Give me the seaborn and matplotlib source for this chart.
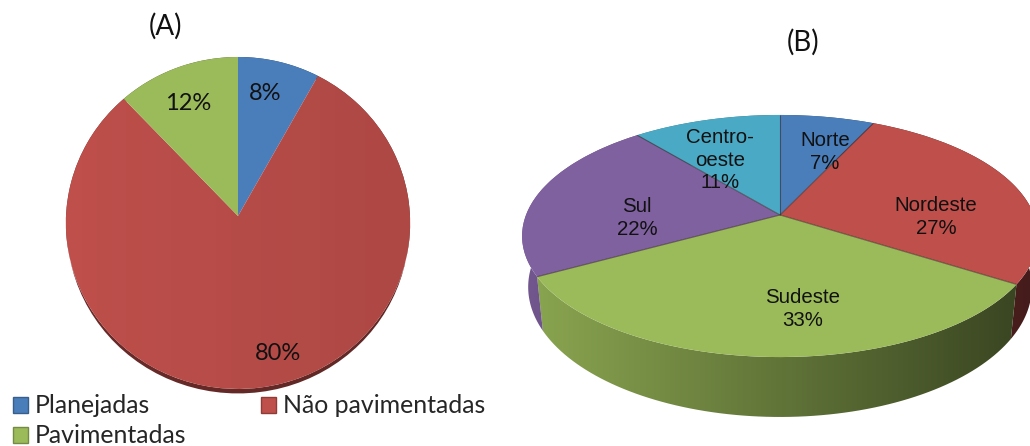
import numpy as np
import matplotlib
matplotlib.use("Agg")
import matplotlib.pyplot as plt
import matplotlib.transforms as mtransforms
from matplotlib.patches import Patch, Polygon
import seaborn as sns

vias_labels = ["Planejadas", "Não pavimentadas", "Pavimentadas"]
vias_values = [8, 80, 12]
regioes_labels = ["Norte", "Nordeste", "Sudeste", "Sul", "Centro-\noeste"]
regioes_values = [7, 27, 33, 22, 11]
office_colors = ["#4a7ebb", "#be4f4b", "#9bba5a", "#7f619f", "#4aa9c4"]


class Perspective(mtransforms.Transform):
    # tilted disc: unit circle to pixels, the centre ends up above the ellipse middle
    input_dims = 2
    output_dims = 2

    def __init__(self, cx, cy, a, b, k):
        super().__init__()
        self.cx, self.cy, self.a, self.b, self.k = cx, cy, a, b, k

    def transform_non_affine(self, xy):
        xy = np.asarray(xy, dtype=float)
        d = 1 + self.k * xy[:, 1]
        return np.column_stack((self.cx + self.a * xy[:, 0] / d, self.cy - self.b * xy[:, 1] / d))


def arc_points(wedge):
    t = np.radians(np.linspace(wedge.theta1, wedge.theta2, 80))
    return np.column_stack((np.cos(t), np.sin(t)))


def draw_side(ax, wedge, top, bottom, color, x0, x1, f0, f1):
    arc = arc_points(wedge)
    pts = np.vstack((top.transform_non_affine(arc), bottom.transform_non_affine(arc)[::-1]))
    shade = np.linspace(f0, f1, 256)[None, :, None] * np.array(matplotlib.colors.to_rgb(color))[None, None, :]
    im = ax.imshow(shade, extent=[x0, x1, 446, 0], aspect="auto", zorder=1)
    im.set_clip_path(Polygon(pts, closed=True, transform=ax.transData))


sns.set_theme(style="white")
palette = sns.color_palette(office_colors)

fig, ax = plt.subplots(figsize=(10.3, 4.46), dpi=100)
fig.subplots_adjust(left=0, right=1, top=1, bottom=0)

# pie A
top_a = Perspective(238, 216, 172, 165.7, 0.042)
bottom_a = Perspective(238, 220.5, 171, 165.7, 0.042)
wedges_a, _ = ax.pie(vias_values, colors=palette[:3], startangle=90, counterclock=False,
                     wedgeprops={"edgecolor": "none", "linewidth": 0})
for w in wedges_a:
    w.set_transform(top_a + ax.transData)
    w.set_zorder(3)
    draw_side(ax, w, top_a, bottom_a, w.get_facecolor()[:3], 60, 415, 0.55, 0.5)

# right side of pie A is a little darker
fade = np.zeros((1, 256, 4))
fade[..., 3] = np.linspace(0, 0.09, 256)
im = ax.imshow(fade, extent=[66, 410, 446, 0], aspect="auto", zorder=3.5)
im.set_clip_path(wedges_a[1].get_path(), wedges_a[1].get_transform())

# pie B
top_b = Perspective(780, 215, 254, 117.4, 0.1736)
bottom_b = Perspective(780, 264.5, 248, 126, 0.1736)
wedges_b, _ = ax.pie(regioes_values, colors=palette, startangle=90, counterclock=False,
                     wedgeprops={"edgecolor": "none", "linewidth": 0})
for w in wedges_b:
    w.set_transform(top_b + ax.transData)
    w.set_zorder(3)
    draw_side(ax, w, top_b, bottom_b, w.get_facecolor()[:3], 520, 1040, 0.9, 0.35)
    a = np.radians(w.theta1)
    white = abs(w.theta1 - 90) < 1e-6 or abs(w.theta1 - 450) < 1e-6
    ax.plot([0, np.cos(a)], [0, np.sin(a)], transform=top_b + ax.transData, zorder=4,
            color="white" if white else "#3a2a2a", lw=1.8 if white else 0.8, alpha=1 if white else 0.6,
            solid_capstyle="butt")

ax.set_aspect("auto")
ax.set_xlim(0, 1030)
ax.set_ylim(446, 0)
ax.set_axis_off()

calibri = "Lato"
arial = "Liberation Sans"
ax.text(165, 26, "(A)", family=calibri, fontsize=20, ha="center", va="center", color="#111111")
ax.text(803, 42, "(B)", family=calibri, fontsize=20, ha="center", va="center", color="#111111")

for (x, y), v in zip([(265, 93), (278, 353), (188, 104)], vias_values):
    ax.text(x, y, f"{v}%", family=calibri, fontsize=17, ha="center", va="center", color="#111111", zorder=5)

label_pos = [(825, 152), (936, 217), (803, 309), (637, 218), (720, 160)]
for (x, y), name, v in zip(label_pos, regioes_labels, regioes_values):
    ax.text(x, y, f"{name}\n{v}%", family=arial, fontsize=14.7, ha="center", va="center",
            linespacing=1.25, color="#111111", zorder=5)

handles = [Patch(facecolor=palette[i], edgecolor=tuple(c * 0.75 for c in palette[i]), lw=1) for i in (0, 2, 1)]
ax.legend(handles, [vias_labels[i] for i in (0, 2, 1)], ncol=2, loc="lower left", bbox_to_anchor=(0.0125, -0.003),
          frameon=False, handlelength=0.62, handleheight=0.62, handletextpad=0.26, columnspacing=3.0,
          labelspacing=0.28, borderpad=0, borderaxespad=0,
          prop={"family": calibri, "size": 17.9})

fig.savefig("out.png", dpi=100)
